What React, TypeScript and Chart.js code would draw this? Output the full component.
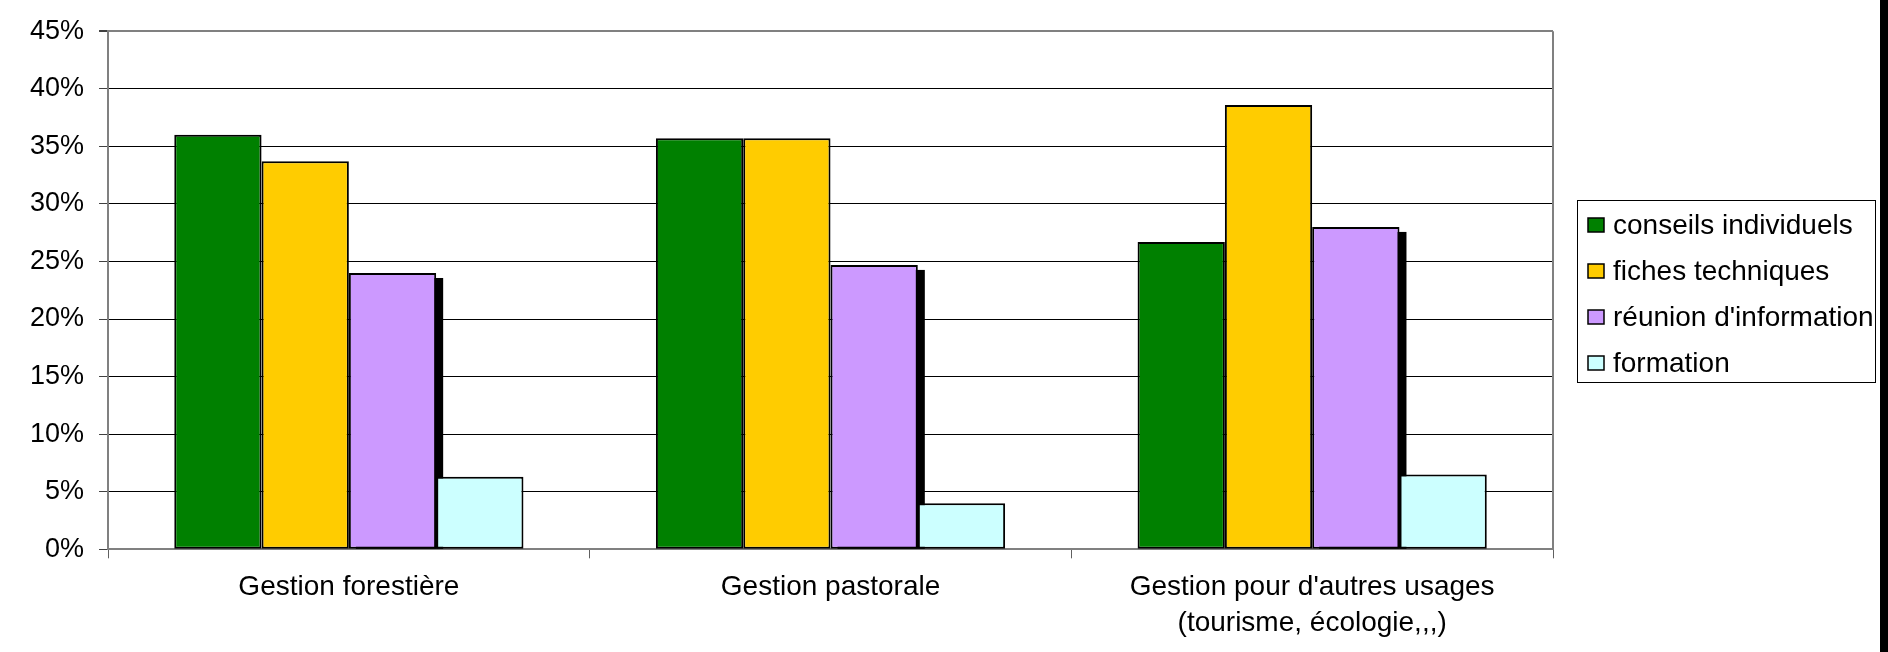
import React, { useEffect, useRef } from 'react';
import { Chart, registerables } from 'chart.js';

Chart.register(...registerables);

// ---- data ----
const categories: (string | string[])[] = [
  'Gestion forestière',
  'Gestion pastorale',
  ["Gestion pour d'autres usages", '(tourisme, écologie,,,)'],
];
const seriesNames = ['conseils individuels', 'fiches techniques', "réunion d'information", 'formation'];
const conseilsIndividuels = [36.0, 35.7, 26.7];
const fichesTechniques = [33.7, 35.7, 38.6];
const reunionInformation = [24.0, 24.7, 28.0];
const formation = [6.3, 4.0, 6.5];
const seriesColors = ['#008000', '#FFCC00', '#CC99FF', '#CCFFFF'];
const yMax = 45;
const yStep = 5;

const FONT = '"Liberation Sans", Arial, sans-serif';

const framePlugin = {
  id: 'frame',
  beforeDatasetsDraw(chart: any) {
    // drop shadow behind "réunion d'information" bars
    const ctx = chart.ctx;
    const meta = chart.getDatasetMeta(2);
    ctx.save();
    ctx.fillStyle = '#000';
    meta.data.forEach((el: any) => {
      const { x, y, base, width } = el.getProps(['x', 'y', 'base', 'width'], true);
      ctx.fillRect(x - width / 2 + 7, y + 5, width, base - y - 5);
    });
    ctx.restore();
  },
  afterDraw(chart: any) {
    const ctx = chart.ctx;
    const area = chart.chartArea;
    ctx.save();
    // right plot border
    ctx.strokeStyle = '#808080';
    ctx.lineWidth = 2;
    ctx.beginPath();
    ctx.moveTo(area.right, area.top);
    ctx.lineTo(area.right, area.bottom);
    ctx.stroke();

    // legend
    const lx = 1577.5;
    const ly = 200.5;
    const lw = 298;
    const lh = 182;
    ctx.strokeStyle = '#000';
    ctx.lineWidth = 1;
    ctx.strokeRect(lx, ly, lw, lh);
    const rowY = [225, 271, 317, 363];
    ctx.font = `28px ${FONT}`;
    ctx.textBaseline = 'middle';
    ctx.textAlign = 'left';
    chart.data.datasets.forEach((ds: any, i: number) => {
      const cy = rowY[i];
      ctx.fillStyle = ds.backgroundColor;
      ctx.fillRect(1588, cy - 7, 16, 14);
      ctx.strokeStyle = '#000';
      ctx.lineWidth = 1.5;
      ctx.strokeRect(1588, cy - 7, 16, 14);
      ctx.fillStyle = '#000';
      ctx.fillText(ds.label, 1613, cy + 1);
    });

    // outer right frame band
    ctx.fillStyle = '#000';
    ctx.fillRect(1880, 0, 8, chart.height);
    ctx.restore();
  },
};

export default function App() {
  const canvasRef = useRef<HTMLCanvasElement | null>(null);

  useEffect(() => {
    if (!canvasRef.current) return;
    const values = [conseilsIndividuels, fichesTechniques, reunionInformation, formation];
    const chart = new Chart(canvasRef.current, {
      type: 'bar',
      data: {
        labels: categories as any,
        datasets: values.map((v, i) => ({
          label: seriesNames[i],
          data: v,
          backgroundColor: seriesColors[i],
          borderColor: '#000',
          borderWidth: 2,
          borderSkipped: false,
          categoryPercentage: 0.725,
          barPercentage: 1,
        })),
      },
      options: {
        responsive: false,
        animation: false,
        devicePixelRatio: 1,
        layout: { padding: { left: 15, top: 23, right: 335, bottom: 0 } },
        plugins: {
          legend: { display: false },
          tooltip: { enabled: false },
        },
        scales: {
          x: {
            grid: {
              offset: true,
              drawOnChartArea: false,
              drawTicks: true,
              tickLength: 9,
              tickColor: '#606060',
            },
            border: { color: '#808080', width: 2 },
            ticks: {
              color: '#000',
              padding: 11,
              maxRotation: 0,
              autoSkip: false,
              font: { family: FONT, size: 28, lineHeight: 1.28 },
            },
          },
          y: {
            min: 0,
            max: yMax,
            grid: {
              color: (c: any) => (c.tick && c.tick.value === yMax ? '#808080' : '#000'),
              lineWidth: (c: any) => (c.tick && c.tick.value === yMax ? 2 : 1),
              tickLength: 9,
              tickColor: '#404040',
            },
            border: { color: '#808080', width: 2 },
            ticks: {
              stepSize: yStep,
              color: '#000',
              padding: 15,
              font: { family: FONT, size: 27 },
              callback: (v: any) => `${v}%`,
            },
          },
        },
      },
      plugins: [framePlugin],
    });
    return () => chart.destroy();
  }, []);

  return (
    <div style={{ position: 'absolute', left: 0, top: 0, width: 1888, height: 652, background: '#fff' }}>
      <canvas ref={canvasRef} width={1888} height={652} style={{ display: 'block' }} />
    </div>
  );
}
